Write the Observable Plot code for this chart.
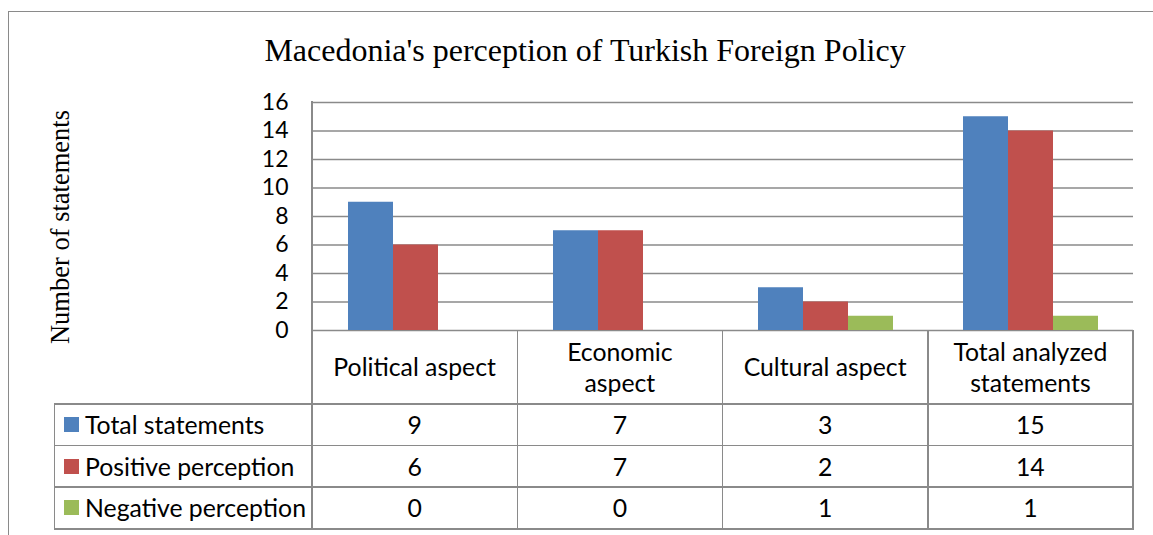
<!DOCTYPE html>
<html><head><meta charset="utf-8">
<script src="https://cdn.jsdelivr.net/npm/d3@7"></script>
<script src="https://cdn.jsdelivr.net/npm/@observablehq/plot@0.6"></script>
<style>
html,body{margin:0;padding:0;background:#fff}
#wrap{position:relative;width:1153px;height:535px;overflow:hidden;background:#fff}
#chart{position:absolute;left:0;top:0}
.line{position:absolute;background:#8a8a8a}
.cell{position:absolute;display:flex;align-items:center;justify-content:center;flex-direction:column;text-align:center;font-family:Lato,sans-serif;font-size:24.8px;color:#000;line-height:31.5px;white-space:nowrap}
.leg{position:absolute;display:flex;align-items:center;font-family:Lato,sans-serif;font-size:24.8px;color:#000;white-space:nowrap}
.sw{display:inline-block;width:15px;height:15px;margin-right:6px}
#title{position:absolute;left:0;width:1170px;top:34px;text-align:center;font-family:"Liberation Serif",serif;font-size:32px;line-height:32px;color:#000;white-space:nowrap}
#ytitle{position:absolute;left:60px;top:227px;transform:translate(-50%,-50%) rotate(-90deg);font-family:"Liberation Serif",serif;font-size:26.5px;line-height:26.5px;color:#000;white-space:nowrap}
#frame{position:absolute;left:8px;top:11px;width:1300px;height:700px;border:1.5px solid #8a8a8a}
</style></head>
<body><div id="wrap"><div id="frame"></div><div id="title"></div><div id="ytitle"></div><div id="chart"></div></div>
<script>
// ---- data ----
const title = "Macedonia's perception of Turkish Foreign Policy";
const yLabel = "Number of statements";
const categories = ["Political aspect", "Economic aspect", "Cultural aspect", "Total analyzed statements"];
const categoryLines = [["Political aspect"], ["Economic", "aspect"], ["Cultural aspect"], ["Total analyzed", "statements"]];
const series = ["Total statements", "Positive perception", "Negative perception"];
const colors = ["#4F81BD", "#C0504D", "#9BBB59"];
const totalStatements = [9, 7, 3, 15];
const positivePerception = [6, 7, 2, 14];
const negativePerception = [0, 0, 1, 1];
const yTicks = [0, 2, 4, 6, 8, 10, 12, 14, 16];

// ---- layout ----
const W = 1153, H = 535, mL = 312, mR = 20, mT = 102, mB = 205;
const headerH = 74, rowH = 41.6, tableLeft = 54.5, lw = 1.5;

const valuesBySeries = [totalStatements, positivePerception, negativePerception];
const data = [];
categories.forEach((c, i) => valuesBySeries.forEach((arr, j) =>
  data.push({category: c, series: series[j], value: arr[i]})));

document.getElementById("title").textContent = title;
document.getElementById("ytitle").textContent = yLabel;

const plot = Plot.plot({
  width: W, height: H,
  marginLeft: mL, marginRight: mR, marginTop: mT, marginBottom: mB,
  style: {background: "transparent", fontFamily: "Lato, sans-serif", fontSize: "23px", color: "#000", overflow: "visible"},
  fx: {domain: categories, padding: 0, axis: null, label: null},
  x: {domain: series, paddingInner: 0, paddingOuter: 0.75, axis: null, label: null},
  y: {domain: [0, 16], ticks: yTicks, tickSize: 0, tickPadding: 25, label: null},
  color: {domain: series, range: colors},
  marks: [
    Plot.ruleY(yTicks, {stroke: "#8a8a8a", strokeWidth: lw}),
    Plot.barY(data, {fx: "category", x: "series", y: "value", fill: "series", inset: 0})
  ]
});
document.getElementById("chart").appendChild(plot);

// ---- data table drawn from the fx scale ----
const fxs = plot.scale("fx");
const band = d3.scaleBand().domain(fxs.domain).range(fxs.range).paddingInner(0).paddingOuter(0);
const ys = plot.scale("y");
const y0 = ys.apply ? ys.apply(0) : H - mB;
const y16 = ys.apply ? ys.apply(16) : mT;
const wrap = document.getElementById("wrap");
function line(x, y, w, h) {
  const d = document.createElement("div");
  d.className = "line";
  Object.assign(d.style, {left: x + "px", top: y + "px", width: w + "px", height: h + "px"});
  wrap.appendChild(d);
}
const right = band.range()[1];
const hdrBottom = y0 + headerH;
const tableBottom = hdrBottom + rowH * series.length;
// vertical lines
line(band.range()[0] - lw / 2, y16 - lw / 2, lw, tableBottom - y16 + lw);
categories.forEach(c => line(band(c) + band.bandwidth() - lw / 2, y0, lw, tableBottom - y0 + lw / 2));
line(tableLeft - lw / 2, hdrBottom, lw, tableBottom - hdrBottom + lw / 2);
// horizontal lines
for (let r = 0; r <= series.length; r++) line(tableLeft - lw / 2, hdrBottom + r * rowH - lw / 2, right - tableLeft + lw, lw);

// header cells
categories.forEach((c, i) => {
  const d = document.createElement("div");
  d.className = "cell";
  Object.assign(d.style, {left: band(c) + "px", top: y0 + "px", width: band.bandwidth() + "px", height: headerH + "px"});
  categoryLines[i].forEach(t => { const s = document.createElement("div"); s.textContent = t; d.appendChild(s); });
  wrap.appendChild(d);
});
// rows
series.forEach((s, j) => {
  const top = hdrBottom + j * rowH;
  const lg = document.createElement("div");
  lg.className = "leg";
  Object.assign(lg.style, {left: (tableLeft + 9.5) + "px", top: top + "px", height: rowH + "px"});
  const sw = document.createElement("span");
  sw.className = "sw"; sw.style.background = colors[j];
  lg.appendChild(sw);
  lg.appendChild(document.createTextNode(s));
  wrap.appendChild(lg);
  categories.forEach((c, i) => {
    const d = document.createElement("div");
    d.className = "cell";
    Object.assign(d.style, {left: band(c) + "px", top: top + "px", width: band.bandwidth() + "px", height: rowH + "px"});
    d.textContent = valuesBySeries[j][i];
    wrap.appendChild(d);
  });
});
</script>
</body></html>
